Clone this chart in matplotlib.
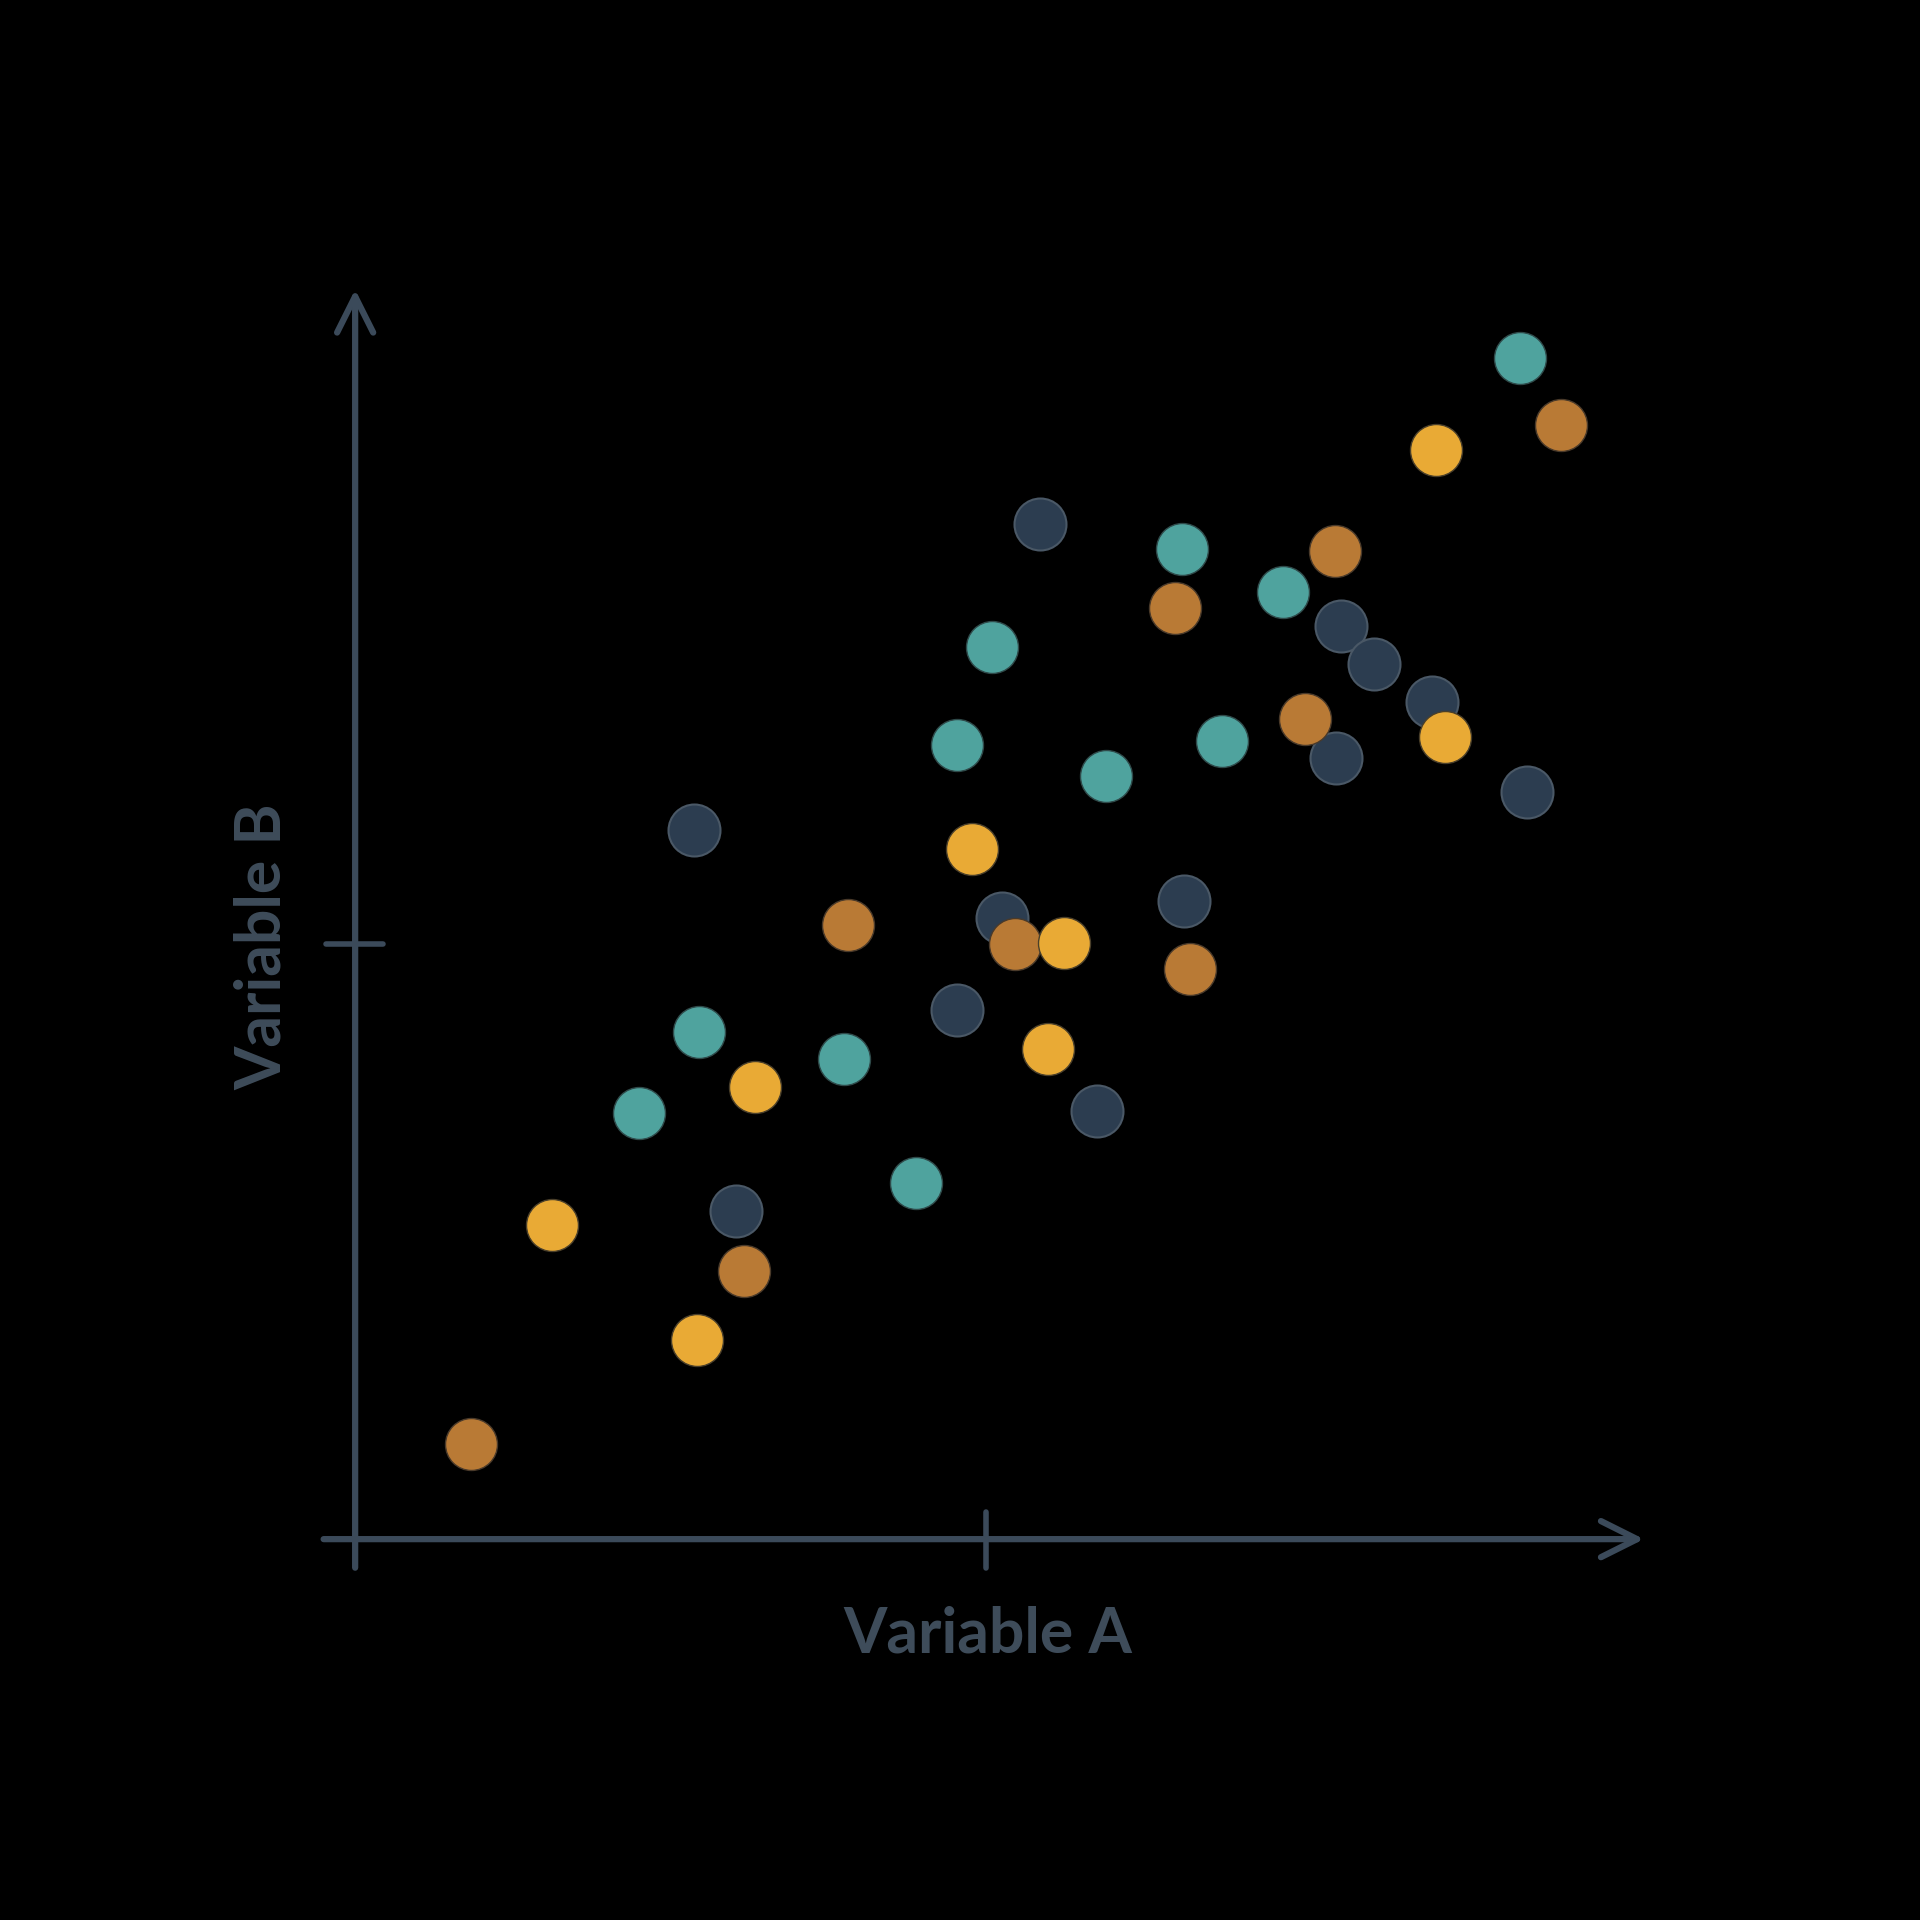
import matplotlib.pyplot as plt

# points, grouped by colour
teal_x = [9.24, 6.56, 7.36, 5.05, 4.77, 5.95, 6.87, 2.73, 2.25, 3.88, 4.45]
teal_y = [9.92, 8.32, 7.96, 7.50, 6.67, 6.41, 6.71, 4.26, 3.58, 4.03, 2.99]

brown_x = [9.56, 7.77, 6.50, 7.53, 3.91, 5.23, 6.62, 3.08, 0.92]
brown_y = [9.36, 8.30, 7.82, 6.89, 5.16, 5.00, 4.79, 2.25, 0.80]

yellow_x = [8.57, 8.64, 4.89, 5.62, 5.49, 3.17, 1.56, 2.71]
yellow_y = [9.15, 6.74, 5.80, 5.01, 4.12, 3.80, 2.64, 1.67]

navy_x = [5.43, 7.82, 8.08, 8.54, 7.78, 9.29, 2.69, 5.13, 6.57, 4.77, 5.88, 3.02]
navy_y = [8.53, 7.67, 7.35, 7.03, 6.56, 6.28, 5.96, 5.22, 5.36, 4.45, 3.60, 2.76]

x_ticks = [5]
y_ticks = [5]
x_label = "Variable A"
y_label = "Variable B"

axis_col = "#3b4a5a"

fig = plt.figure(figsize=(19.2, 19.2), dpi=100, facecolor="black")
ax = fig.add_axes([0, 0, 1, 1])
ax.set_facecolor("black")
ax.set_xlim(-2.816, 12.408)
ax.set_ylim(-3.2, 12.932)
ax.axis("off")

# axes with open chevron heads
arrow = dict(arrowstyle="->,head_length=1.3,head_width=0.65", mutation_scale=20,
             color=axis_col, lw=4.5, shrinkA=0, shrinkB=0)
ax.annotate("", xy=(10.22, 0), xytext=(-0.25, 0), arrowprops=arrow)
ax.annotate("", xy=(0, 10.5), xytext=(0, -0.24), arrowprops=arrow)
for t in x_ticks:
    ax.plot([t, t], [-0.24, 0.23], color=axis_col, lw=4.0, solid_capstyle="round")
for t in y_ticks:
    ax.plot([-0.23, 0.22], [t, t], color=axis_col, lw=4.0, solid_capstyle="round")

s = 1400
ax.scatter(navy_x, navy_y, s=s, color="#2c3d50", edgecolor="#4a5866", lw=1.5, zorder=3)
ax.scatter(teal_x, teal_y, s=s, color="#4fa39e", edgecolor="#2f4a4a", lw=1.0, zorder=3)
ax.scatter(brown_x, brown_y, s=s, color="#b97a35", edgecolor="#4a3a2a", lw=1.0, zorder=3)
ax.scatter(yellow_x, yellow_y, s=s, color="#e9aa35", edgecolor="#4a3f2a", lw=1.0, zorder=3)

ax.text(5.02, -0.80, x_label, ha="center", va="center", fontsize=45,
        fontweight="bold", family="Lato", color="#3e4c5a")
ax.text(-0.73, 4.98, y_label, ha="center", va="center", fontsize=45,
        fontweight="bold", family="Lato", color="#3e4c5a", rotation=90)

fig.savefig("out.png", dpi=100, facecolor="black")
